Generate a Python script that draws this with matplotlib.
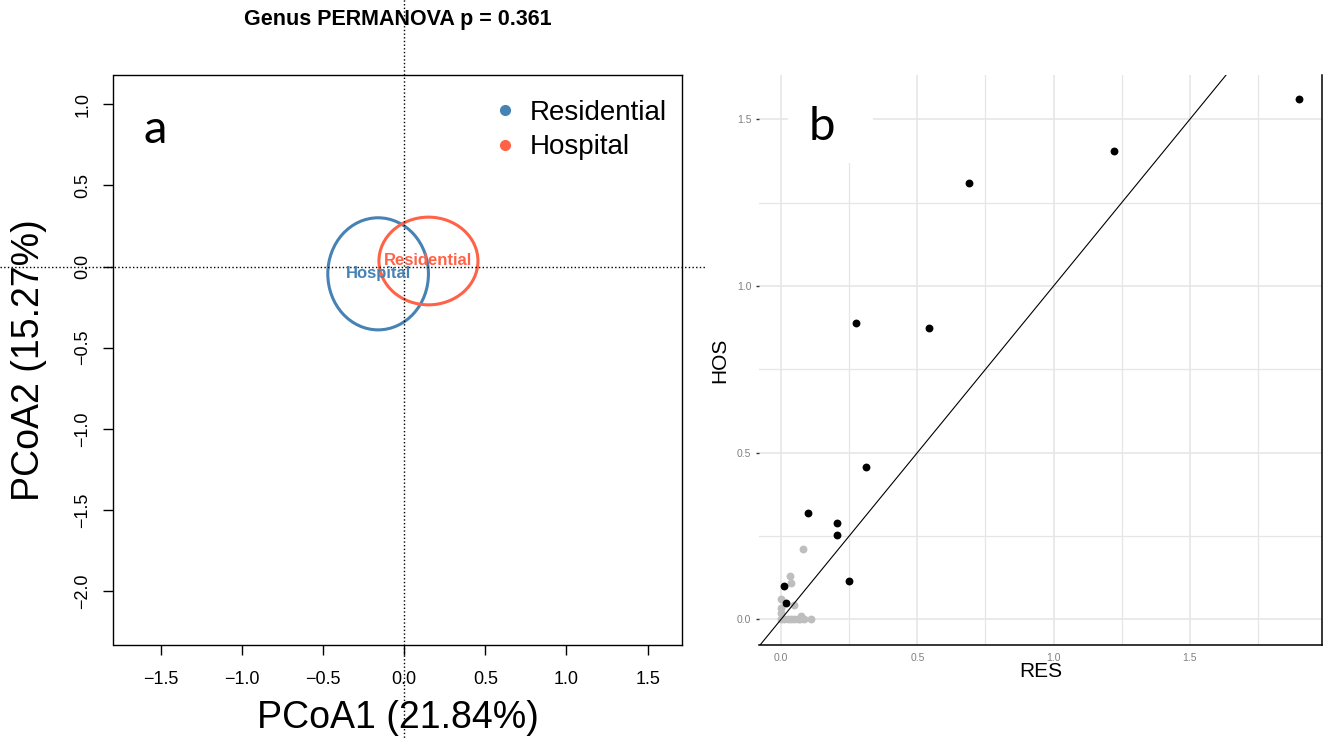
import matplotlib
matplotlib.use("Agg")
import matplotlib.pyplot as plt
import numpy as np
from matplotlib.lines import Line2D
from matplotlib.patches import Ellipse, Rectangle
from matplotlib.ticker import FuncFormatter, MultipleLocator

plt.rcParams["font.family"] = ["Liberation Sans", "DejaVu Sans"]

# panel a: PCoA group ellipses
ellipse_labels = ["Hospital", "Residential"]
ellipse_cx = [-0.16, 0.15]
ellipse_cy = [-0.045, 0.034]
ellipse_w = [0.62, 0.61]
ellipse_h = [0.69, 0.54]
ellipse_colors = ["#4682B4", "#FF6347"]
legend_labels = ["Residential", "Hospital"]
legend_colors = ["#4682B4", "#FF6347"]
title_a = "Genus PERMANOVA p = 0.361"
xlabel_a = "PCoA1 (21.84%)"
ylabel_a = "PCoA2 (15.27%)"
xticks_a = [-1.5, -1.0, -0.5, 0.0, 0.5, 1.0, 1.5]
yticks_a = [-2.0, -1.5, -1.0, -0.5, 0.0, 0.5, 1.0]

# panel b: RES vs HOS abundances
res_gray = [0.079, 0.031, 0.037, 0.0, 0.0, 0.0, 0.049, 0.073, 0.0,
            0.012, 0.024, 0.037, 0.049, 0.061, 0.071, 0.083, 0.11]
hos_gray = [0.21, 0.131, 0.108, 0.061, 0.033, 0.02, 0.043, 0.01, 0.0,
            0.0, 0.0, 0.0, 0.0, 0.0, 0.0, 0.0, 0.0]
res_black = [1.899, 1.223, 0.691, 0.275, 0.543, 0.313, 0.097, 0.204,
             0.206, 0.25, 0.009, 0.018]
hos_black = [1.56, 1.405, 1.31, 0.888, 0.873, 0.456, 0.319, 0.289,
             0.252, 0.115, 0.101, 0.049]
abline_intercept = 0.0
abline_slope = 1.0
ticks_b = [0.0, 0.5, 1.0, 1.5]

W, H = 1327, 740


def fmt_minus(v, _pos):
    return f"{v:.1f}".replace("-", "\u2212")


fig = plt.figure(figsize=(W / 100, H / 100), dpi=100)

# ---------------- panel a ----------------
ax_a = fig.add_axes([113.5 / W, 95 / H, 568.2 / W, 570 / H])
ax_a.set_xlim(-1.79, 1.71)
ax_a.set_ylim(-2.33, 1.179)

for lab, cx, cy, w, h, col in zip(ellipse_labels, ellipse_cx, ellipse_cy,
                                  ellipse_w, ellipse_h, ellipse_colors):
    ax_a.add_patch(Ellipse((cx, cy), w, h, fill=False, ec=col, lw=2.2))
    ax_a.text(cx, cy, lab, color=col, fontsize=12, fontweight="bold",
              ha="center", va="center")

ax_a.axvline(0, ymin=-0.18, ymax=1.15, color="black", ls=":", lw=1.0,
             clip_on=False)
ax_a.axhline(0, xmin=-0.2, xmax=1.041, color="black", ls=":", lw=1.0,
             clip_on=False)

ax_a.set_xticks(xticks_a)
ax_a.set_yticks(yticks_a)
ax_a.xaxis.set_major_formatter(FuncFormatter(fmt_minus))
ax_a.yaxis.set_major_formatter(FuncFormatter(fmt_minus))
ax_a.tick_params(axis="both", direction="out", length=7, width=1,
                 labelsize=13, color="black")
ax_a.tick_params(axis="x", pad=12)
ax_a.tick_params(axis="y", pad=9, labelrotation=90)
for t in ax_a.get_yticklabels():
    t.set_va("center")
for sp in ax_a.spines.values():
    sp.set_linewidth(1.0)

ax_a.set_xlabel(xlabel_a, fontsize=27)
ax_a.xaxis.set_label_coords(0.5, -0.128)
ax_a.xaxis.label.set_va("center")
ax_a.set_ylabel(ylabel_a, fontsize=27)
ax_a.yaxis.set_label_coords(-0.148, 0.5)
ax_a.yaxis.label.set_va("center")

ax_a.set_title(title_a, fontsize=15.5, fontweight="bold", y=1.087, pad=0)

handles = [Line2D([], [], ls="none", marker="o", markersize=7, color=c)
           for c in legend_colors]
ax_a.legend(handles, legend_labels, loc="upper left",
            bbox_to_anchor=(0.665, 0.956), frameon=False, fontsize=20,
            borderpad=0, borderaxespad=0, handlelength=1.0,
            handletextpad=0.4, labelspacing=0.3)

ax_a.text(0.074, 0.880, "a", transform=ax_a.transAxes, fontsize=34,
          ha="center", va="baseline", family="Lato")

# ---------------- panel b ----------------
ax_b = fig.add_axes([759 / W, 95 / H, 563 / W, 570 / H])
ax_b.set_xlim(-0.081, 1.985)
ax_b.set_ylim(-0.077, 1.633)
ax_b.set_axisbelow(True)

ax_b.set_xticks(ticks_b)
ax_b.set_yticks(ticks_b)
ax_b.xaxis.set_minor_locator(MultipleLocator(0.25))
ax_b.yaxis.set_minor_locator(MultipleLocator(0.25))
ax_b.xaxis.set_major_formatter(FuncFormatter(fmt_minus))
ax_b.yaxis.set_major_formatter(FuncFormatter(fmt_minus))
ax_b.grid(which="major", color="#E6E6E6", lw=1.2)
ax_b.grid(which="minor", color="#E6E6E6", lw=0.9)
ax_b.tick_params(which="minor", length=0)
ax_b.tick_params(axis="x", which="major", length=0, pad=6,
                 labelsize=7.5, labelcolor="#808080")
ax_b.tick_params(axis="y", which="major", length=2.5, width=1, pad=3,
                 labelsize=7.5, labelcolor="#808080", color="#333333")

ax_b.spines["left"].set_visible(False)
ax_b.spines["top"].set_visible(False)
ax_b.spines["bottom"].set_linewidth(1.1)
ax_b.spines["right"].set_linewidth(1.1)

ax_b.add_patch(Rectangle((0.0515, 0.8456), 0.151, 0.16,
                         transform=ax_b.transAxes, fc="white", ec="none",
                         zorder=1, clip_on=False))

ax_b.scatter(res_gray, hos_gray, s=32, color="#BEBEBE", zorder=3,
             linewidths=0)
ax_b.scatter(res_black, hos_black, s=32, color="black", zorder=4,
             linewidths=0)
ax_b.axline((0, abline_intercept), slope=abline_slope, color="black",
            lw=0.8, zorder=5)

ax_b.set_xlabel("RES", fontsize=15)
ax_b.xaxis.set_label_coords(0.5, -0.047)
ax_b.xaxis.label.set_va("center")
ax_b.set_ylabel("HOS", fontsize=15)
ax_b.yaxis.set_label_coords(-0.069, 0.5)
ax_b.yaxis.label.set_va("center")

ax_b.text(0.112, 0.886, "b", transform=ax_b.transAxes, fontsize=34,
          ha="center", va="baseline", family="Lato", zorder=6)

fig.savefig("out.png", dpi=100)
